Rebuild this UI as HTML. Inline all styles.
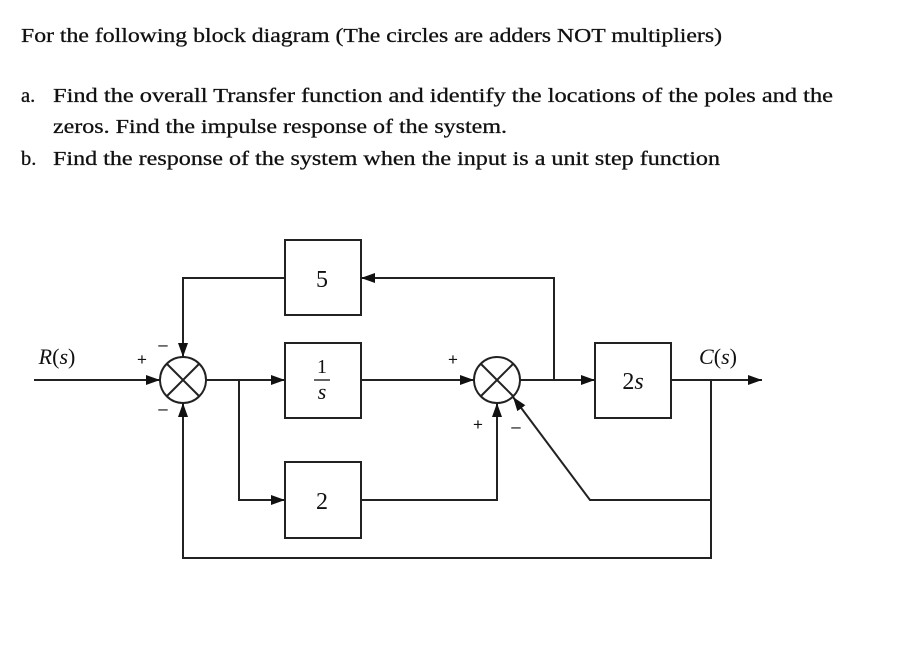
<!DOCTYPE html>
<html><head><meta charset="utf-8"><style>
html,body{margin:0;padding:0;background:#fff;}
svg{display:block;}
text{font-family:"Liberation Serif",serif;fill:#111;}
</style></head><body>
<svg width="912" height="648" viewBox="0 0 912 648" xmlns="http://www.w3.org/2000/svg">
<defs>
<marker id="a" markerWidth="14" markerHeight="10" refX="14" refY="5" orient="auto" markerUnits="userSpaceOnUse">
<path d="M0,0 L14,5 L0,10 z" fill="#111"/></marker>
</defs>
<g font-size="20.5" stroke="#111" stroke-width="0.3">
<text x="21" y="42" textLength="701" lengthAdjust="spacingAndGlyphs">For the following block diagram (The circles are adders NOT multipliers)</text>
<text x="21" y="102">a.</text>
<text x="53" y="102" textLength="780" lengthAdjust="spacingAndGlyphs">Find the overall Transfer function and identify the locations of the poles and the</text>
<text x="53" y="133" textLength="454" lengthAdjust="spacingAndGlyphs">zeros. Find the impulse response of the system.</text>
<text x="21" y="165">b.</text>
<text x="53" y="165" textLength="667" lengthAdjust="spacingAndGlyphs">Find the response of the system when the input is a unit step function</text>
</g>
<g stroke="#222" stroke-width="2" fill="none">
<rect x="285" y="240" width="76" height="75"/>
<rect x="285" y="343" width="76" height="75"/>
<rect x="285" y="462" width="76" height="76"/>
<rect x="595" y="343" width="76" height="75"/>
<circle cx="183" cy="380" r="23"/>
<line x1="167" y1="364" x2="199" y2="396"/><line x1="199" y1="364" x2="167" y2="396"/>
<circle cx="497" cy="380" r="23"/>
<line x1="481" y1="364" x2="513" y2="396"/><line x1="513" y1="364" x2="481" y2="396"/>
<line x1="34" y1="380" x2="160" y2="380" marker-end="url(#a)"/>
<line x1="206" y1="380" x2="285" y2="380" marker-end="url(#a)"/>
<polyline points="239,380 239,500 285,500" marker-end="url(#a)"/>
<polyline points="285,278 183,278 183,357" marker-end="url(#a)"/>
<line x1="361" y1="380" x2="474" y2="380" marker-end="url(#a)"/>
<polyline points="361,500 497,500 497,403" marker-end="url(#a)"/>
<line x1="520" y1="380" x2="595" y2="380" marker-end="url(#a)"/>
<polyline points="554,380 554,278 361,278" marker-end="url(#a)"/>
<line x1="671" y1="380" x2="762" y2="380" marker-end="url(#a)"/>
<polyline points="711,380 711,558 183,558 183,403" marker-end="url(#a)"/>
<polyline points="711,500 590,500 513,397" marker-end="url(#a)"/>
</g>
<g font-size="24" text-anchor="middle">
<text x="322" y="287">5</text>
<text x="322" y="373" font-size="20">1</text>
<line x1="314" y1="380" x2="330" y2="380" stroke="#222" stroke-width="1.4"/>
<text x="322" y="399" font-size="22" font-style="italic">s</text>
<text x="322" y="509">2</text>
<text x="633" y="389">2<tspan font-style="italic">s</tspan></text>
<text x="57" y="364" font-size="22"><tspan font-style="italic">R</tspan>(<tspan font-style="italic">s</tspan>)</text>
<text x="718" y="364" font-size="22"><tspan font-style="italic">C</tspan>(<tspan font-style="italic">s</tspan>)</text>
</g>
<g font-size="17" text-anchor="middle">
<text x="142" y="365" style="font-family:'Liberation Sans',sans-serif">+</text>
<text x="163" y="350" style="font-family:'Liberation Sans',sans-serif">–</text>
<text x="163" y="414" style="font-family:'Liberation Sans',sans-serif">–</text>
<text x="453" y="365" style="font-family:'Liberation Sans',sans-serif">+</text>
<text x="478" y="430" style="font-family:'Liberation Sans',sans-serif">+</text>
<text x="516" y="432" style="font-family:'Liberation Sans',sans-serif">–</text>
</g>
</svg>
</body></html>
